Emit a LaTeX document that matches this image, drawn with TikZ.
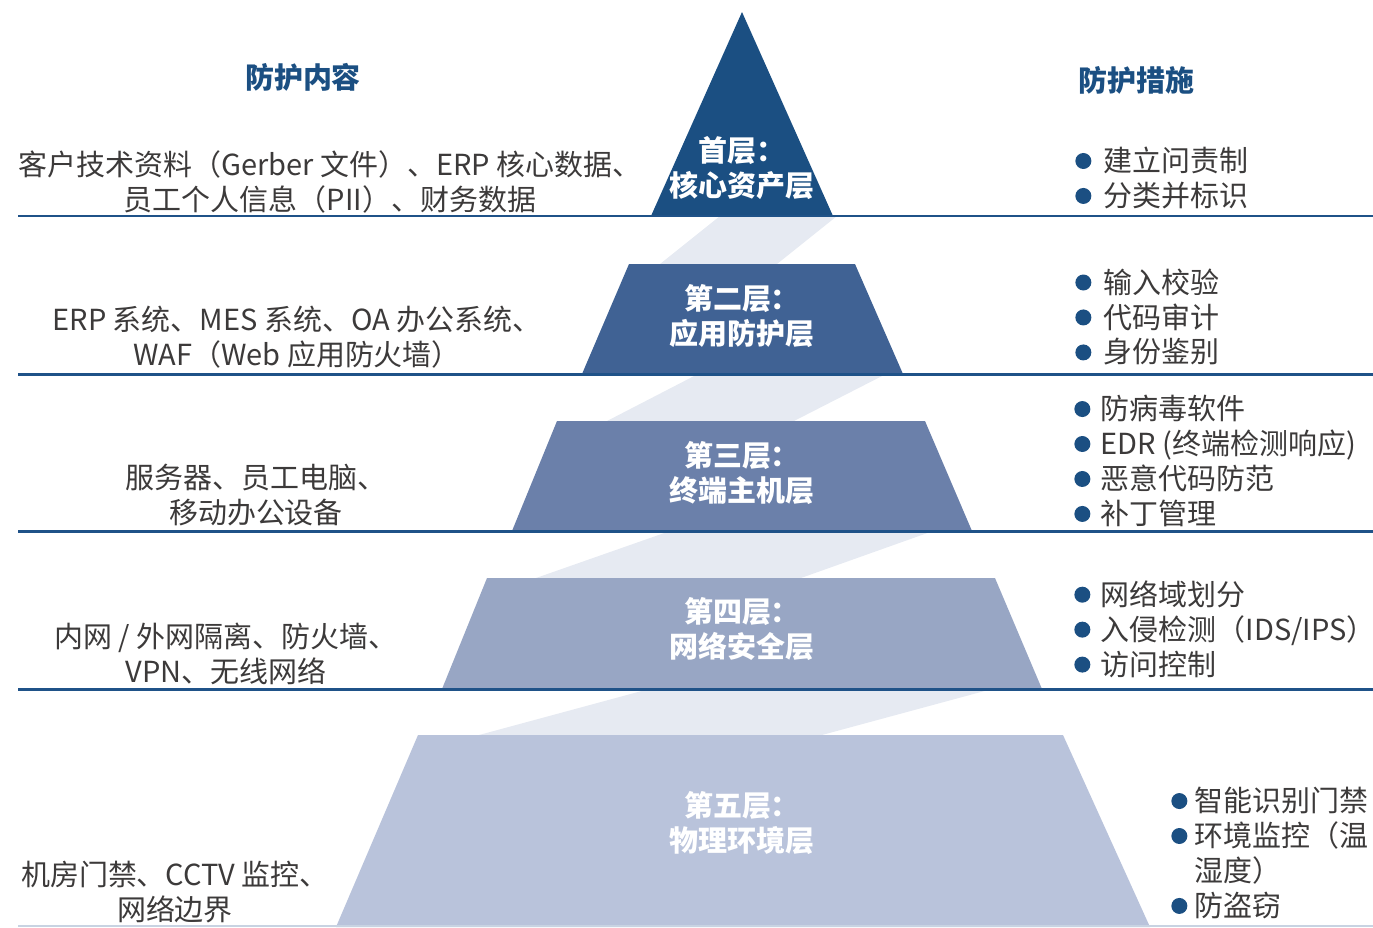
\documentclass[tikz,border=0pt]{standalone}
\usepackage{fontspec}
\setmainfont{Noto Sans CJK SC}
\usepackage{tikz}
\usetikzlibrary{positioning}

\definecolor{coreblue}{RGB}{27,79,130}
\definecolor{appblue}{RGB}{64,98,148}
\definecolor{hostblue}{RGB}{107,128,170}
\definecolor{netblue}{RGB}{152,166,196}
\definecolor{physblue}{RGB}{185,195,219}
\definecolor{bandgray}{RGB}{230,234,242}
\definecolor{lineblue}{RGB}{31,82,136}
\definecolor{footgray}{RGB}{200,211,226}
\definecolor{textgray}{RGB}{60,58,58}

\newcommand{\dotmark}{\tikz[baseline=-6pt]\fill[coreblue] (0,0) circle (0.16cm);}

\begin{document}
\begin{tikzpicture}[
    x=0.02cm, y=-0.02cm,
    every node/.style={font=\fontsize{16.5}{19.9}\selectfont},
    layer/.style={font=\fontsize{16.5}{19.9}\selectfont\bfseries, text=white, align=center},
    head/.style={font=\fontsize{16.5}{19.9}\selectfont\bfseries, text=coreblue},
    content/.style={text=textgray, align=center},
    measure/.style={text=textgray, align=left, inner sep=0pt, anchor=west},
    sepline/.style={draw=lineblue, line width=1.7pt},
    band/.style={fill=bandgray}
]
\useasboundingbox (0,0) rectangle (1373,927);

% Bands between layers
\fill[band] (720,216) -- (837,216) -- (777,264) -- (660,264) -- cycle;
\fill[band] (698,374) -- (886,374) -- (794,421) -- (607,421) -- cycle;
\fill[band] (670,531) -- (933,531) -- (801,578) -- (536,578) -- cycle;
\fill[band] (649,689) -- (992,689) -- (822,735) -- (479,735) -- cycle;

% Pyramid layers
\fill[coreblue] (742,12) -- (833,216) -- (651,216) -- cycle;
\fill[appblue] (629,264) -- (855,264) -- (903,374) -- (582,374) -- cycle;
\fill[hostblue] (557,421) -- (925,421) -- (972,531) -- (512,531) -- cycle;
\fill[netblue] (487,578) -- (995,578) -- (1042,689) -- (442,689) -- cycle;
\fill[physblue] (418,735) -- (1063,735) -- (1150,927) -- (336,927) -- cycle;

% Separators
\foreach \y in {216,374,531,689}
    \draw[sepline] (18,\y) -- (1373,\y);
\draw[draw=footgray, line width=1.2pt] (18,926) -- (1373,926);

% Layer labels
\node[layer] (l1) at (742,168) {首层：\\核心资产层};
\node[layer] (l2) at (742,316) {第二层：\\应用防护层};
\node[layer] (l3) at (742,473) {第三层：\\终端主机层};
\node[layer] (l4) at (742,629) {第四层：\\网络安全层};
\node[layer] (l5) at (742,823) {第五层：\\物理环境层};

% Headings
\node[head] (lhead) at (303,77) {防护内容};
\node[head] (rhead) at (1136,80) {防护措施};

% Protected content
\node[content] (c1) at (330,182) {客户技术资料（Gerber 文件）、ERP 核心数据、\\员工个人信息（PII）、财务数据};
\node[content] (c2) at (297,337) {ERP 系统、MES 系统、OA 办公系统、\\WAF（Web 应用防火墙）};
\node[content] (c3) at (256,495) {服务器、员工电脑、\\移动办公设备};
\node[content] (c4) at (226,654) {内网 / 外网隔离、防火墙、\\VPN、无线网络};
\node[content] (c5) at (175,892) {机房门禁、CCTV 监控、\\网络边界};

% Measures
\node[measure] (m1) at (1075,178) {\dotmark\hspace{7pt}建立问责制\\\dotmark\hspace{7pt}分类并标识};
\node[measure] (m2) at (1075,317) {\dotmark\hspace{7pt}输入校验\\\dotmark\hspace{7pt}代码审计\\\dotmark\hspace{7pt}身份鉴别};
\node[measure] (m3) at (1074,461) {\dotmark\hspace{6pt}防病毒软件\\\dotmark\hspace{6pt}EDR (终端检测响应)\\\dotmark\hspace{6pt}恶意代码防范\\\dotmark\hspace{6pt}补丁管理};
\node[measure] (m4) at (1074,629) {\dotmark\hspace{6pt}网络域划分\\\dotmark\hspace{6pt}入侵检测（IDS/IPS）\\\dotmark\hspace{6pt}访问控制};
\node[measure] (m5) at (1171,853) {\dotmark\hspace{4pt}智能识别门禁\\\dotmark\hspace{4pt}环境监控（温\\\phantom{\dotmark}\hspace{4pt}湿度）\\\dotmark\hspace{4pt}防盗窃};

\end{tikzpicture}
\end{document}
